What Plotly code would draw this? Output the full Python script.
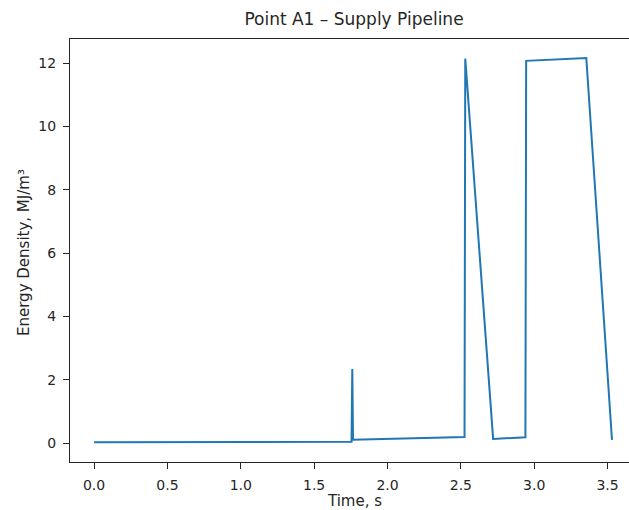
import plotly.graph_objects as go

# Energy density at point A1 of the supply pipeline
time_s = [0.0, 1.755, 1.76, 1.765, 2.525, 2.53, 2.72, 2.94, 2.945, 3.355, 3.53]
energy_mj_m3 = [0.02, 0.04, 2.34, 0.10, 0.19, 12.14, 0.13, 0.18, 12.07, 12.16, 0.10]

x_ticks = [0.0, 0.5, 1.0, 1.5, 2.0, 2.5, 3.0, 3.5]
y_ticks = [0, 2, 4, 6, 8, 10, 12]

FONT = "DejaVu Sans"
INK = "#262626"
W, H = 629, 510

fig = go.Figure(
    go.Scatter(
        x=time_s,
        y=energy_mj_m3,
        mode="lines",
        line=dict(color="#1f77b4", width=2),
        showlegend=False,
    )
)

fig.update_layout(
    width=W,
    height=H,
    margin=dict(l=70, r=0, t=39, b=48),
    paper_bgcolor="white",
    plot_bgcolor="white",
    font=dict(family=FONT, size=14, color=INK),
    title=dict(
        text="Point A1 – Supply Pipeline",
        font=dict(family=FONT, size=17, color=INK),
        xref="container",
        yref="container",
        x=354 / W,
        y=1 - 19 / H,
        xanchor="center",
        yanchor="middle",
    ),
    annotations=[
        dict(
            text="Time, s",
            xref="paper", yref="paper",
            x=(354 - 70) / (W - 70),
            y=-(501 - 462) / (462 - 39),
            xanchor="center", yanchor="middle",
            showarrow=False,
            font=dict(family=FONT, size=15, color=INK),
        ),
        dict(
            text="Energy Density, MJ/m³",
            xref="paper", yref="paper",
            x=-(70 - 24) / (W - 70),
            y=(462 - 253) / (462 - 39),
            xanchor="center", yanchor="middle",
            textangle=-90,
            showarrow=False,
            font=dict(family=FONT, size=15, color=INK),
        ),
    ],
)

fig.update_xaxes(
    range=[-0.164, 3.646],
    tickvals=x_ticks,
    ticktext=[f"{v:.1f}" for v in x_ticks],
    ticks="outside",
    ticklen=6,
    tickwidth=1,
    tickcolor=INK,
    ticklabelstandoff=4,
    tickfont=dict(family=FONT, size=14, color=INK),
    showline=True,
    linecolor=INK,
    linewidth=1,
    mirror=True,
    showgrid=False,
    zeroline=False,
)

fig.update_yaxes(
    range=[-0.6, 12.76],
    tickvals=y_ticks,
    ticks="outside",
    ticklen=6,
    tickwidth=1,
    tickcolor=INK,
    ticklabelstandoff=4,
    tickfont=dict(family=FONT, size=14, color=INK),
    showline=True,
    linecolor=INK,
    linewidth=1,
    mirror=False,
    showgrid=False,
    zeroline=False,
)

fig.write_html("out.html")
